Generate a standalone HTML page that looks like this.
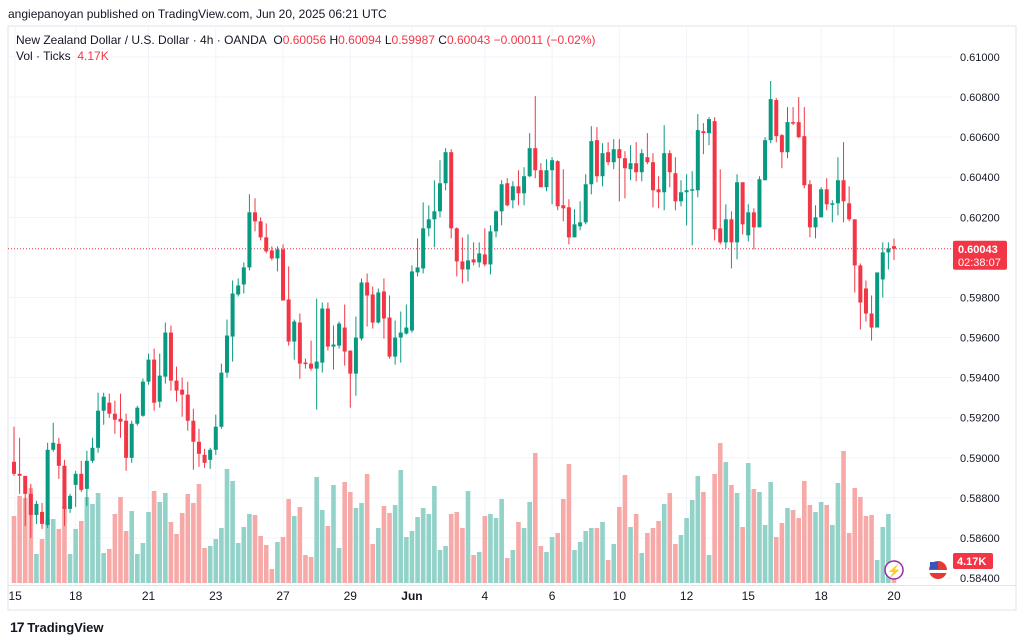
<!DOCTYPE html>
<html><head><meta charset="utf-8"><style>
html,body{margin:0;padding:0;background:#fff;}
body{width:1024px;height:642px;overflow:hidden;position:relative;font-family:"Liberation Sans",sans-serif;color:#131722;}
.t{position:absolute;white-space:nowrap;font-size:12px;}
.r{color:#f23645;}
</style></head><body>
<div class="t" style="left:8px;top:7px;font-size:12px;">angiepanoyan published on TradingView.com, Jun 20, 2025 06:21 UTC</div>
<svg id="chart" width="1024" height="642" style="position:absolute;left:0;top:0"></svg>
<div class="t" style="left:16px;top:33px;">New Zealand Dollar / U.S. Dollar · 4h · OANDA&nbsp; O<span class="r">0.60056</span> H<span class="r">0.60094</span> L<span class="r">0.59987</span> C<span class="r">0.60043</span> <span class="r">−0.00011 (−0.02%)</span></div>
<div class="t" style="left:16px;top:49px;">Vol · Ticks&nbsp; <span class="r">4.17K</span></div>
<div class="t" style="left:10px;top:619px;font-size:13px;font-weight:bold;"><span style="font-size:14px;letter-spacing:-1px">17</span> TradingView</div>
<script>
const opens=[0.58980,0.58920,0.58910,0.58820,0.58715,0.58730,0.58665,0.59040,0.59070,0.58960,0.58745,0.58865,0.58920,0.58845,0.58985,0.59050,0.59235,0.59275,0.59220,0.59195,0.59185,0.59000,0.59170,0.59210,0.59380,0.59490,0.59280,0.59405,0.59625,0.59385,0.59340,0.59315,0.59185,0.59080,0.59015,0.58990,0.59040,0.59155,0.59425,0.59605,0.59815,0.59865,0.59950,0.60225,0.60180,0.60100,0.60035,0.59995,0.60040,0.59790,0.59580,0.59675,0.59475,0.59470,0.59445,0.59475,0.59745,0.59555,0.59560,0.59650,0.59535,0.59420,0.59595,0.59875,0.59815,0.59675,0.59830,0.59700,0.59505,0.59600,0.59620,0.59635,0.59925,0.59945,0.60145,0.60190,0.60230,0.60370,0.60525,0.60145,0.59980,0.59940,0.59990,0.59975,0.60015,0.59965,0.60130,0.60230,0.60370,0.60285,0.60355,0.60320,0.60405,0.60545,0.60435,0.60350,0.60435,0.60480,0.60260,0.60250,0.60100,0.60155,0.60175,0.60365,0.60585,0.60405,0.60525,0.60475,0.60540,0.60495,0.60440,0.60470,0.60425,0.60500,0.60475,0.60340,0.60325,0.60520,0.60420,0.60280,0.60325,0.60335,0.60335,0.60630,0.60620,0.60680,0.60145,0.60075,0.60190,0.60075,0.60375,0.60110,0.60225,0.60150,0.60385,0.60585,0.60785,0.60610,0.60525,0.60675,0.60675,0.60605,0.60365,0.60150,0.60200,0.60340,0.60265,0.60270,0.60385,0.60270,0.60190,0.59960,0.59845,0.59720,0.59650,0.59890,0.60025,0.60056];
const highs=[0.59155,0.59100,0.58900,0.58870,0.58785,0.58775,0.59075,0.59175,0.59100,0.58990,0.58820,0.58935,0.58985,0.59035,0.59100,0.59325,0.59325,0.59320,0.59285,0.59320,0.59220,0.59185,0.59260,0.59395,0.59520,0.59545,0.59520,0.59675,0.59660,0.59455,0.59400,0.59380,0.59245,0.59145,0.59045,0.59050,0.59215,0.59470,0.59690,0.59885,0.59895,0.59975,0.60315,0.60295,0.60200,0.60170,0.60055,0.60055,0.60065,0.59955,0.59690,0.59720,0.59495,0.59585,0.59795,0.59775,0.59775,0.59660,0.59680,0.59765,0.59535,0.59705,0.59895,0.59920,0.59855,0.59845,0.59895,0.59810,0.59685,0.59730,0.59765,0.59960,0.60095,0.60275,0.60260,0.60385,0.60485,0.60545,0.60540,0.60150,0.60100,0.60115,0.60075,0.60075,0.60145,0.60160,0.60235,0.60385,0.60395,0.60380,0.60435,0.60450,0.60620,0.60805,0.60470,0.60490,0.60500,0.60485,0.60440,0.60290,0.60240,0.60280,0.60415,0.60655,0.60650,0.60570,0.60575,0.60590,0.60590,0.60530,0.60560,0.60575,0.60540,0.60620,0.60520,0.60405,0.60660,0.60535,0.60500,0.60385,0.60415,0.60430,0.60715,0.60670,0.60700,0.60700,0.60440,0.60265,0.60230,0.60415,0.60375,0.60265,0.60245,0.60405,0.60600,0.60880,0.60795,0.60615,0.60750,0.60750,0.60800,0.60750,0.60385,0.60260,0.60350,0.60395,0.60285,0.60500,0.60575,0.60355,0.60190,0.59970,0.59885,0.59810,0.59925,0.60075,0.60075,0.60094];
const lows=[0.58910,0.58820,0.58660,0.58600,0.58670,0.58645,0.58650,0.59030,0.58895,0.58660,0.58725,0.58755,0.58830,0.58760,0.58975,0.59025,0.59165,0.59200,0.59120,0.59100,0.58935,0.58975,0.59160,0.59205,0.59365,0.59235,0.59250,0.59370,0.59335,0.59280,0.59205,0.59135,0.58940,0.58955,0.58950,0.58945,0.59015,0.59145,0.59400,0.59480,0.59805,0.59820,0.59935,0.60130,0.60085,0.60020,0.59985,0.59930,0.59785,0.59560,0.59490,0.59395,0.59445,0.59435,0.59240,0.59425,0.59535,0.59440,0.59545,0.59460,0.59250,0.59310,0.59585,0.59655,0.59645,0.59670,0.59595,0.59495,0.59465,0.59475,0.59615,0.59625,0.59905,0.59920,0.60105,0.60050,0.60200,0.60335,0.60095,0.59905,0.59870,0.59880,0.59960,0.59950,0.59955,0.59915,0.60100,0.60160,0.60255,0.60245,0.60260,0.60260,0.60400,0.60395,0.60350,0.60330,0.60265,0.60235,0.60180,0.60065,0.60100,0.60135,0.60165,0.60315,0.60375,0.60355,0.60460,0.60440,0.60280,0.60295,0.60385,0.60380,0.60380,0.60465,0.60250,0.60245,0.60235,0.60350,0.60235,0.60255,0.60160,0.60060,0.60300,0.60515,0.60560,0.60085,0.60065,0.60045,0.59945,0.59990,0.60115,0.60080,0.60040,0.60150,0.60560,0.60570,0.60575,0.60445,0.60495,0.60660,0.60595,0.60345,0.60100,0.60095,0.60200,0.60235,0.60175,0.60210,0.60175,0.60180,0.59825,0.59640,0.59680,0.59585,0.59650,0.59800,0.59940,0.59987];
const closes=[0.58920,0.58910,0.58820,0.58715,0.58770,0.58670,0.59040,0.59075,0.58960,0.58745,0.58810,0.58920,0.58840,0.58985,0.59050,0.59235,0.59305,0.59220,0.59190,0.59180,0.59000,0.59170,0.59250,0.59380,0.59490,0.59275,0.59410,0.59625,0.59385,0.59335,0.59315,0.59185,0.59080,0.59020,0.58975,0.59040,0.59155,0.59425,0.59610,0.59820,0.59860,0.59950,0.60225,0.60180,0.60100,0.60030,0.59995,0.60040,0.59785,0.59580,0.59680,0.59470,0.59470,0.59445,0.59480,0.59745,0.59555,0.59565,0.59670,0.59530,0.59420,0.59600,0.59875,0.59810,0.59675,0.59825,0.59695,0.59505,0.59600,0.59625,0.59650,0.59930,0.59950,0.60145,0.60190,0.60230,0.60370,0.60525,0.60145,0.59980,0.59940,0.59985,0.59975,0.60020,0.59965,0.60130,0.60230,0.60365,0.60260,0.60355,0.60320,0.60405,0.60545,0.60435,0.60350,0.60435,0.60485,0.60255,0.60245,0.60100,0.60165,0.60175,0.60365,0.60580,0.60405,0.60520,0.60475,0.60540,0.60495,0.60445,0.60470,0.60425,0.60520,0.60475,0.60335,0.60325,0.60520,0.60425,0.60280,0.60325,0.60335,0.60340,0.60635,0.60620,0.60690,0.60140,0.60075,0.60190,0.60075,0.60375,0.60165,0.60225,0.60150,0.60390,0.60585,0.60790,0.60605,0.60525,0.60675,0.60670,0.60600,0.60360,0.60150,0.60200,0.60340,0.60265,0.60270,0.60385,0.60280,0.60190,0.59960,0.59775,0.59720,0.59650,0.59925,0.60025,0.60045,0.60043];
const volumes=[67,87,85,95,29,44,64,64,54,77,29,54,62,86,79,90,30,34,69,86,52,72,29,40,71,92,81,90,61,49,70,89,80,99,35,37,44,55,114,102,40,56,69,68,47,38,14,41,46,84,67,76,28,26,106,73,57,98,35,101,91,75,80,109,39,55,77,70,78,113,46,52,66,75,69,97,33,37,69,71,55,92,28,31,67,69,65,84,25,33,61,55,81,130,37,31,46,50,84,119,33,41,52,55,55,61,23,39,76,108,56,69,30,50,55,62,79,90,39,48,65,83,107,91,28,109,140,121,98,90,56,120,94,91,58,101,46,60,75,73,65,102,78,71,81,78,58,100,132,50,95,86,67,68,23,56,69,10];
const priceTicks=["0.61000","0.60800","0.60600","0.60400","0.60200","0.59800","0.59600","0.59400","0.59200","0.59000","0.58800","0.58600","0.58400"];
const dateLabels=["15","18","21","23","27","29","Jun","4","6","10","12","15","18","20"];
const dateIdx=[0.2,11,24,36,48,60,71,84,96,108,120,131,144,157];

const NS="http://www.w3.org/2000/svg";
const svg=document.getElementById('chart');
function el(tag,attrs,parent){const e=document.createElementNS(NS,tag);for(const k in attrs)e.setAttribute(k,attrs[k]);(parent||svg).appendChild(e);return e;}
function y(p){return 57+(0.61-p)*20040;}
function x(i){return 14+i*5.605;}
function vy(v){return 583-v;}

el('rect',{x:8,y:26,width:1008,height:584,fill:'none',stroke:'#e0e3eb'});
priceTicks.forEach(t=>{const g=el('line',{x1:8,x2:952,y1:y(+t),y2:y(+t),stroke:'#f0f3fa'});


const tx=el('text',{x:960,y:y(+t)+4,'font-size':11,fill:'#131722','font-family':'Liberation Sans, sans-serif'});tx.textContent=t;

});
dateLabels.forEach((d,k)=>{const xx=x(dateIdx[k]);
const g=el('line',{x1:xx,x2:xx,y1:26,y2:585,stroke:'#f0f3fa'});


const tx=el('text',{x:xx,y:600,'font-size':12,fill:'#131722','text-anchor':'middle','font-weight':d==='Jun'?'bold':'normal','font-family':'Liberation Sans, sans-serif'});tx.textContent=d;

});
el('line',{x1:8,x2:1016,y1:585.5,y2:585.5,stroke:'#e0e3eb'});

volumes.forEach((v,i)=>{const up=closes[i]>=opens[i];
const r=el('rect',{x:x(i)-2.3,y:vy(v),width:4.6,height:v,fill:up?'#92d2c8':'#f7a9a7'});

});
const lastY=y(closes[closes.length-1]);
el('line',{x1:8,x2:952,y1:lastY,y2:lastY,stroke:'#f23645','stroke-dasharray':'1 2','stroke-width':1});
opens.forEach((o,i)=>{const c=closes[i],up=c>=o,col=up?'#089981':'#f23645';
const w=el('line',{x1:x(i),x2:x(i),y1:y(highs[i]),y2:y(lows[i]),stroke:col,'stroke-width':1});


const t=Math.min(y(o),y(c)),h=Math.max(1.5,Math.abs(y(o)-y(c)));
const b=el('rect',{x:x(i)-2,y:t,width:4,height:h,fill:col});

});

const pb=el('rect',{x:953,y:lastY-8,width:54,height:29,rx:2,fill:'#f23645'});


const p1=el('text',{x:958,y:lastY+4,'font-size':11,'font-weight':'bold',fill:'#fff','font-family':'Liberation Sans, sans-serif'});p1.textContent='0.60043';
const p2=el('text',{x:958,y:lastY+17,'font-size':11,fill:'#fff','font-family':'Liberation Sans, sans-serif'});p2.textContent='02:38:07';
const vb=el('rect',{x:953,y:553,width:40,height:16,rx:2,fill:'#f23645'});


const v1=el('text',{x:957,y:565,'font-size':11,'font-weight':'bold',fill:'#fff','font-family':'Liberation Sans, sans-serif'});v1.textContent='4.17K';
const ic=el('circle',{cx:894,cy:570,r:9,fill:'#fff',stroke:'#9c27b0','stroke-width':1.5});


const lt=el('text',{x:894,y:575,'font-size':12,fill:'#9c27b0','text-anchor':'middle'});lt.textContent='⚡';
const fl=el('circle',{cx:938,cy:570,r:9,fill:'#e53935'});


el('rect',{x:929,y:570,width:18,height:3,fill:'#fff'});
el('rect',{x:930,y:562,width:8,height:7,fill:'#3f51b5'});
</script>
</body></html>
